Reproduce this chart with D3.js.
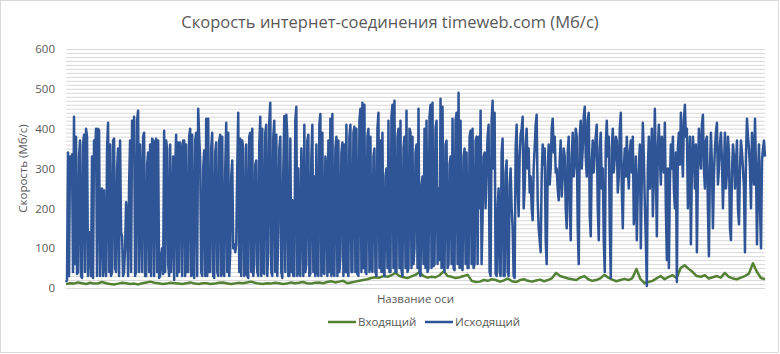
<!DOCTYPE html>
<html>
<head>
<meta charset="utf-8">
<script src="https://cdn.jsdelivr.net/npm/d3@7"></script>
<style>
body { margin: 0; background: #fff; }
text { font-family: 'Open Sans', sans-serif; fill: #595959; }
</style>
</head>
<body>
<svg width="780" height="354"></svg>
<script>
// series names (legend order)
const seriesNames = ['Входящий', 'Исходящий'];

// Исходящий (outgoing), Мб/с
const outgoing = [
  15,20, 340,30, 330,300, 335,40, 430,60, 380,35, 40,330, 370,30, 25,360, 385,40,
  400,380, 30,120, 140,30, 330,25, 370,340, 400,30, 400,395, 30,200, 250,30, 245,60,
  30,350, 415,40, 360,30, 40,370, 375,50, 40,300, 350,30, 370,140, 130,30, 40,100,
  215,180, 30,260, 370,40, 420,360, 430,30, 40,420, 445,40, 360,230, 40,380, 390,30,
  30,310, 340,40, 360,30, 375,370, 30,360, 375,40, 370,25, 30,80, 100,35, 395,40,
  370,350, 60,30, 360,40, 160,330, 20,300, 385,30, 365,40, 365,350, 30,370, 370,30,
  360,40, 40,380, 400,30, 385,40, 25,370, 390,30, 450,380, 320,40, 30,300, 345,30,

  425,30, 425,40, 40,350, 390,30, 25,340, 365,40, 30,370, 385,30, 380,40, 30,300,
  415,40, 390,30, 90,280, 320,100, 110,90, 110,300, 440,40, 375,30, 370,350, 30,40,
  360,30, 25,380, 390,40, 400,30, 60,310, 320,40, 30,360, 430,30, 400,40, 35,390,
  410,30, 90,420, 465,40, 30,380, 420,40, 385,30, 140,350, 380,40, 25,300, 432,40,
  435,380, 30,30, 375,40, 220,30, 30,420, 455,30, 300,40, 30,350, 240,30, 410,40,
  60,370, 385,30, 35,330, 410,40, 280,30, 360,40, 30,410, 437,30, 390,40, 35,330,
  300,30, 370,40, 425,30, 437,40, 30,350, 380,30, 370,40, 80,340, 365,30, 360,40,

  410,40, 30,380, 410,40, 40,390, 405,40, 400,35, 30,420, 450,40, 465,50, 460,40,
  35,380, 400,40, 380,50, 40,330, 350,40, 30,400, 440,50, 370,40, 390,45, 30,280,
  300,50, 420,40, 40,430, 460,50, 470,40, 40,380, 400,50, 420,45, 30,350, 380,50,
  445,40, 50,400, 390,50, 380,60, 100,340, 360,50, 450,40, 30,260, 280,60, 400,50,
  420,40, 50,430, 460,50, 465,55, 60,400, 420,60, 250,70, 475,50, 455,60, 40,360,
  370,50, 60,310, 330,60, 425,50, 45,420, 440,60, 490,50, 420,55, 45,330, 350,60,
  340,50, 50,380, 395,60, 400,50, 60,370, 380,60, 380,200, 445,60, 180,330, 340,200,

  300,380, 410,40, 30,420, 470,300, 440,35, 30,200, 250,40, 30,340, 375,30, 30,290,
  320,40, 30,260, 300,200, 150,30, 25,350, 410,250, 180,330, 385,400, 430,200, 250,360,
  400,300, 350,240, 280,200, 170,300, 350,410, 435,220, 150,120, 90,280, 360,310, 350,120,
  60,300, 360,260, 300,400, 425,340, 380,290, 300,250, 220,320, 370,230, 280,350, 330,200,
  150,340, 380,200, 120,330, 390,280, 310,400, 380,150, 60,380, 420,300, 350,430, 455,330,
  280,420, 440,180, 130,320, 370,290, 340,380, 410,200, 120,350, 390,250, 300,120, 40,360,
  420,330, 380,150, 25,350, 400,290, 330,380, 370,240, 280,400, 440,250, 150,300, 350,280,

  380,300, 250,340, 370,290, 380,160, 200,330, 120,250, 300,360, 100,280, 415,330, 210,120,
  5,300, 380,250, 300,400, 180,280, 450,300, 130,350, 410,330, 260,380, 330,290, 415,200,
  70,300, 50,260, 360,300, 380,250, 200,340, 15,350, 390,310, 440,350, 280,420, 460,380,
  400,200, 300,380, 110,300, 380,330, 250,360, 90,290, 400,340, 300,410, 435,300, 250,370,
  380,200, 80,300, 390,310, 150,280, 350,390, 415,260, 300,360, 390,320, 200,300, 390,250,
  290,380, 340,150, 120,290, 360,330, 250,310, 370,200, 160,300, 370,340, 300,250, 90,330,
  425,380, 350,300, 200,390, 330,260, 425,300, 110,280, 360,200, 100,320, 350,370, 330
];

// Входящий (incoming), Мб/с
const incoming = [
  10,12,11,14,12,10,13,11,12,15, 12,10,9,11,13,12,10,11,9,12,
  14,16,13,12,10,11,13,12,11,10, 12,14,11,10,12,
  12,10,11,13,14,12,10,11,13,12, 14,16,13,11,10,12,11,13,12,10,
  11,14,12,13,15,12,11,13,14,12, 15,17,14,16,18,
  12,14,16,18,20,22,25,27,26,30, 28,32,38,30,27,25,29,33,40,30,
  26,28,27,32,42,30,28,25,27,30, 33,18,15,16,20,
  18,22,20,16,19,24,17,15,20,22, 18,16,19,21,17,20,25,38,30,27,
  24,22,20,26,30,22,18,20,24,33, 26,21,17,20,23,
  20,25,48,22,12,15,18,24,30,22, 28,32,25,50,57,48,40,30,28,32,
  24,27,30,26,38,28,24,22,26,30, 36,62,40,25,22
];

const yTickLabels = [0, 100, 200, 300, 400, 500, 600];
const gridStep = 10;

function whenLoaded() {
  const svg = d3.select('svg');
  const width = +svg.attr('width');
  const height = +svg.attr('height');

  const margin = { top: 49, right: 15, bottom: 66, left: 66 };
  const innerWidth = width - margin.left - margin.right;
  const innerHeight = height - margin.top - margin.bottom;

  // chart area border
  svg.append('rect')
    .attr('x', 0.5).attr('y', 0.5)
    .attr('width', width - 2).attr('height', height - 2)
    .attr('fill', '#fff')
    .attr('stroke', '#d9d9d9');

  svg.append('text')
    .attr('x', width / 2)
    .attr('y', 28)
    .attr('text-anchor', 'middle')
    .style('font-size', '16.5px')
    .text('Скорость интернет-соединения timeweb.com (Мб/с)');

  const g = svg.append('g')
    .attr('transform', `translate(${margin.left},${margin.top})`);

  const yScale = d3.scaleLinear()
    .domain([0, 600])
    .range([innerHeight, 0]);

  const xOut = d3.scaleLinear()
    .domain([0, outgoing.length - 1])
    .range([0, innerWidth]);

  const xIn = d3.scaleLinear()
    .domain([0, incoming.length - 1])
    .range([0, innerWidth]);

  // grid lines every 10
  const grid = g.append('g')
    .call(d3.axisLeft(yScale)
      .tickValues(d3.range(0, 601, gridStep))
      .tickSize(-innerWidth)
      .tickFormat(''));
  grid.select('.domain').remove();
  grid.selectAll('line').attr('stroke', '#d9d9d9');

  const yAxisG = g.append('g')
    .call(d3.axisLeft(yScale).tickValues(yTickLabels).tickSize(0).tickPadding(11));
  yAxisG.select('.domain').remove();
  yAxisG.selectAll('text')
    .style('font-size', '11.5px')
    .attr('fill', '#595959');

  g.append('text')
    .attr('transform', `translate(${-39},${innerHeight / 2}) rotate(-90)`)
    .attr('text-anchor', 'middle')
    .style('font-size', '11.5px')
    .text('Скорость (Мб/с)');

  g.append('text')
    .attr('x', innerWidth / 2)
    .attr('y', innerHeight + 15)
    .attr('text-anchor', 'middle')
    .style('font-size', '11.5px')
    .text('Название оси');

  const lineIn = d3.line()
    .x((d, i) => xIn(i))
    .y(d => yScale(d));

  const lineOut = d3.line()
    .x((d, i) => xOut(i))
    .y(d => yScale(d));

  g.append('path')
    .datum(incoming)
    .attr('d', lineIn)
    .attr('fill', 'none')
    .attr('stroke', '#548235')
    .attr('stroke-width', 2.5)
    .attr('stroke-linejoin', 'round');

  g.append('path')
    .datum(outgoing)
    .attr('d', lineOut)
    .attr('fill', 'none')
    .attr('stroke', '#2f5597')
    .attr('stroke-width', 2.5)
    .attr('stroke-linejoin', 'round');

  // legend
  const colors = ['#548235', '#2f5597'];
  const legendX = [328, 425];
  const legend = svg.append('g').attr('transform', 'translate(0,322)');
  seriesNames.forEach((name, i) => {
    legend.append('line')
      .attr('x1', legendX[i]).attr('x2', legendX[i] + 28)
      .attr('y1', 0).attr('y2', 0)
      .attr('stroke', colors[i])
      .attr('stroke-width', 2.5);
    legend.append('text')
      .attr('x', legendX[i] + 30)
      .attr('y', 4)
      .style('font-size', '11.5px')
      .text(name);
  });
}

window.onload = whenLoaded;
</script>
</body>
</html>
